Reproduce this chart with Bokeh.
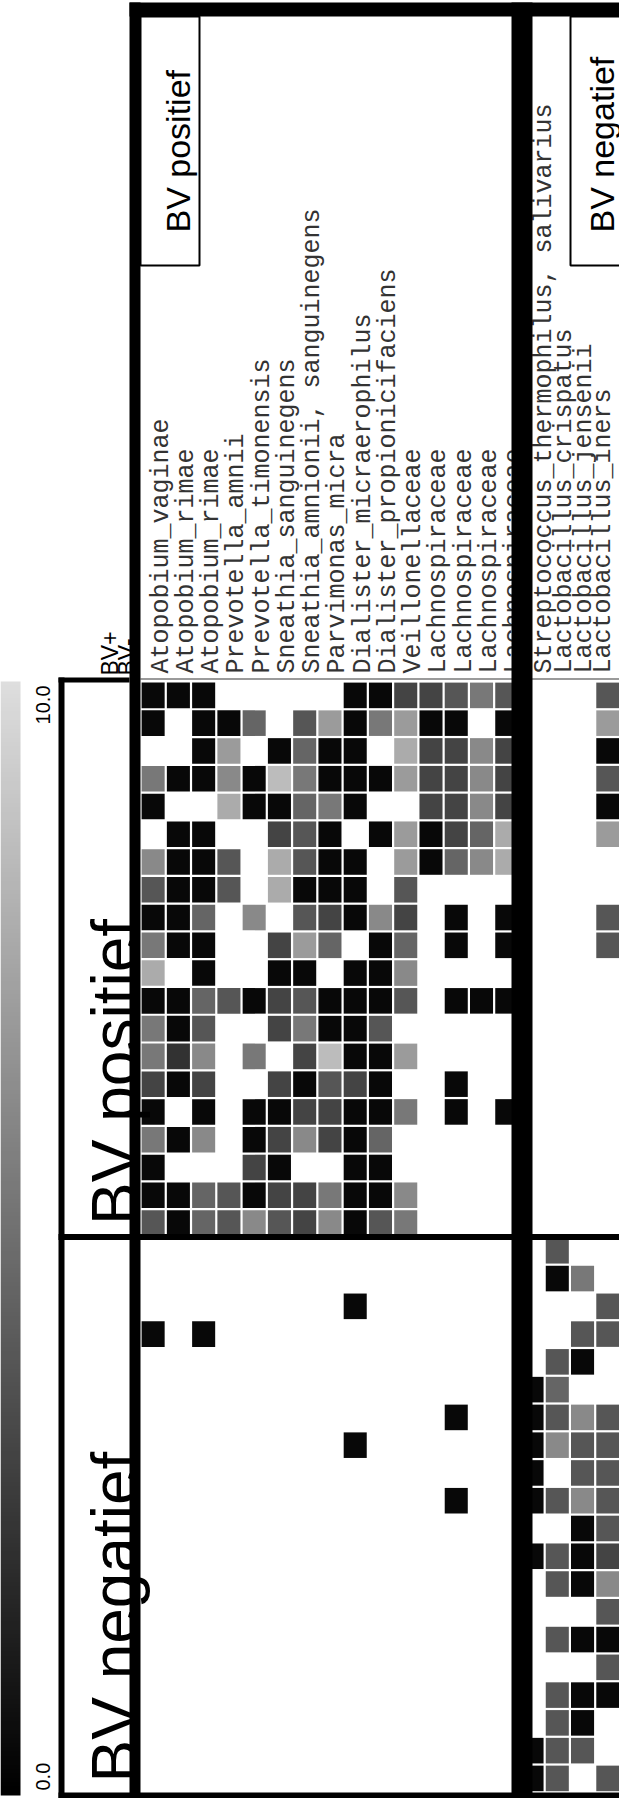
import numpy as np
from bokeh.plotting import figure
from bokeh.models import Range1d, LinearColorMapper, ColumnDataSource
from bokeh.core.properties import value
from bokeh.embed import file_html
from bokeh.resources import INLINE

# ---------------- data ----------------
taxa = [
    "Atopobium_vaginae", "Atopobium_rimae", "Atopobium_rimae", "Prevotella_amnii",
    "Prevotella_timonensis", "Sneathia_sanguinegens", "Sneathia_amnionii, sanguinegens",
    "Parvimonas_micra", "Dialister_micraerophilus", "Dialister_propionicifaciens",
    "Veillonellaceae", "Lachnospiraceae", "Lachnospiraceae", "Lachnospiraceae",
    "Lachnospiraceae", "Streptococcus_thermophilus, salivarius", "Lactobacillus_crispatus",
    "Lactobacillus_jensenii", "Lactobacillus_iners",
]
taxa_groups = ["BV positief"] * 15 + ["BV negatief"] * 4
sample_groups = ["BV positief", "BV negatief"]
N = None
# rows = samples of the BV positief group, columns = taxa (scale 0.0 - 10.0)
bv_pos = [
    [0.4, 0.4, 0.4, N, N, N, N, N, 0.4, 0.4, 3.1, 3.1, 3.9, 5.4, 3.9, N, N, N, 3.9],
    [0.4, N, 0.4, 0.4, 4.6, N, 3.9, 7.0, 0.4, 5.4, 7.0, 0.4, 0.4, N, 0.4, N, N, N, 7.0],
    [N, N, 0.4, 7.0, N, 0.4, 4.6, 0.4, 0.4, N, 7.7, 3.1, 3.1, 6.2, 3.1, N, N, N, 0.4],
    [5.4, 0.4, 0.4, 6.2, 0.4, 8.5, 5.4, 0.4, 0.4, 0.4, 7.0, 3.1, 3.1, 6.2, 3.1, N, N, N, 3.9],
    [0.4, N, N, 7.7, 0.4, 0.4, 4.6, 5.4, 0.4, N, N, 3.1, 3.1, 6.2, 3.1, N, N, N, 0.4],
    [N, 0.4, 0.4, N, N, 3.1, 3.9, 0.4, N, 0.4, 7.0, 0.4, 3.1, 4.6, 7.7, N, N, N, 7.0],
    [6.2, 0.4, 0.4, 3.9, N, 7.7, 3.9, 0.4, 0.4, N, 7.0, 0.4, 4.6, 6.2, 7.7, N, N, N, N],
    [3.9, 0.4, 0.4, 3.9, N, 7.7, 0.4, 0.4, 0.4, N, 3.9, N, N, N, N, N, N, N, N],
    [0.4, 0.4, 4.6, N, 6.2, N, 3.9, 3.1, 0.4, 6.2, 3.1, N, 0.4, N, 0.4, N, N, N, 3.9],
    [5.4, 0.4, 0.4, N, N, 3.1, 7.0, 4.6, N, 0.4, 4.6, N, 0.4, N, 0.4, N, N, N, 3.9],
    [7.7, N, 0.4, N, N, 0.4, 0.4, N, 0.4, 0.4, 6.2, N, N, N, N, N, N, N, N],
    [0.4, 0.4, 4.6, 3.9, 0.4, 3.1, 3.9, 0.4, 0.4, 0.4, 3.9, N, 0.4, 0.4, 0.4, N, N, N, N],
    [5.4, 0.4, 3.9, N, N, 3.1, 5.4, 0.4, 0.4, 3.9, N, N, N, N, N, N, N, N, N],
    [5.4, 2.3, 6.2, N, 5.4, N, 3.1, 8.5, 0.4, 0.4, 7.0, N, N, N, N, N, N, N, N],
    [3.1, 0.4, 3.1, N, N, 3.1, 0.4, 3.9, 3.1, 0.4, N, N, 0.4, N, N, N, N, N, N],
    [0.4, N, 0.4, N, 0.4, 0.4, 3.1, 3.1, 0.4, 0.4, 5.4, N, 0.4, N, 0.4, N, N, N, N],
    [5.4, 0.4, 6.2, N, 0.4, 3.1, 6.2, 3.1, 0.4, 4.6, N, N, N, N, N, N, N, N, N],
    [0.4, N, N, N, 3.1, 0.4, N, N, 0.4, 0.4, N, N, N, N, N, N, N, N, N],
    [0.4, 0.4, 4.6, 3.9, 0.4, 3.1, 3.1, 5.4, 0.4, 0.4, 6.2, N, N, N, N, N, N, N, N],
    [3.9, 0.4, 4.6, 3.9, 6.2, 3.9, 3.1, 6.2, 0.4, 3.9, 5.4, N, N, N, N, N, N, N, N],
]
# rows = samples of the BV negatief group
bv_neg = [
    [N, N, N, N, N, N, N, N, N, N, N, N, N, N, N, N, 3.9, N, N],
    [N, N, N, N, N, N, N, N, N, N, N, N, N, N, N, N, 0.4, 5.4, N],
    [N, N, N, N, N, N, N, N, 0.4, N, N, N, N, N, N, N, N, N, 3.9],
    [0.4, N, 0.4, N, N, N, N, N, N, N, N, N, N, N, N, N, N, 3.9, 3.9],
    [N, N, N, N, N, N, N, N, N, N, N, N, N, N, N, N, 3.9, 0.4, N],
    [N, N, N, N, N, N, N, N, N, N, N, N, N, N, N, 0.4, 4.6, N, N],
    [N, N, N, N, N, N, N, N, N, N, N, N, 0.4, N, N, 0.4, 3.9, 6.2, 3.9],
    [N, N, N, N, N, N, N, N, 0.4, N, N, N, N, N, N, 0.4, 6.2, 3.9, 3.9],
    [N, N, N, N, N, N, N, N, N, N, N, N, N, N, N, 0.4, N, 3.9, 3.9],
    [N, N, N, N, N, N, N, N, N, N, N, N, 0.4, N, N, 0.4, 3.9, 6.2, 3.9],
    [N, N, N, N, N, N, N, N, N, N, N, N, N, N, N, N, N, 0.4, 3.9],
    [N, N, N, N, N, N, N, N, N, N, N, N, N, N, N, 0.4, 3.9, 0.4, 3.1],
    [N, N, N, N, N, N, N, N, N, N, N, N, N, N, N, N, 3.9, 0.4, 6.2],
    [N, N, N, N, N, N, N, N, N, N, N, N, N, N, N, N, N, N, 3.9],
    [N, N, N, N, N, N, N, N, N, N, N, N, N, N, N, N, 3.9, 0.4, 0.4],
    [N, N, N, N, N, N, N, N, N, N, N, N, N, N, N, N, N, N, 3.9],
    [N, N, N, N, N, N, N, N, N, N, N, N, N, N, N, N, 3.9, 0.4, 0.4],
    [N, N, N, N, N, N, N, N, N, N, N, N, N, N, N, N, 3.9, 0.4, N],
    [N, N, N, N, N, N, N, N, N, N, N, N, N, N, N, 0.4, 3.9, 3.9, N],
    [N, N, N, N, N, N, N, N, N, N, N, N, N, N, N, 0.4, 3.9, N, 3.9],
]
scale_low, scale_high = 0.0, 10.0
scale_labels = ["0.0", "10.0"]

# ---------------- layout (page pixels) ----------------
H = 1814
def Y(v):
    return H - v

X0, CW = 148.0, 25.26      # heatmap columns
Y0, CH = 689.0, 27.77      # heatmap rows
ncol = len(taxa)

palette = ["#%02x%02x%02x" % (g, g, g) for g in np.linspace(0, 222, 256).astype(int)]
mapper = LinearColorMapper(palette=palette, low=scale_low, high=scale_high, nan_color="white")

p = figure(width=619, height=1798, x_range=Range1d(8, 627), y_range=Range1d(Y(1806), Y(8)),
           toolbar_location=None, output_backend="svg", min_border=0,
           x_axis_location=None, y_axis_location=None)
p.grid.visible = False
p.outline_line_color = None
p.background_fill_color = "white"
p.border_fill_color = "white"

# ---- cells
xs, ys, vs = [], [], []
for r, row in enumerate(bv_pos + bv_neg):
    for c, v in enumerate(row):
        if v is None:
            continue
        xs.append(X0 + CW * (c + 0.5))
        ys.append(Y(Y0 + CH * (r + 0.5)))
        vs.append(v)
src = ColumnDataSource(dict(x=xs, y=ys, v=vs))
p.rect(x="x", y="y", width=CW - 2.2, height=CH - 2.2, source=src,
       fill_color={"field": "v", "transform": mapper}, line_color=None)

# ---- colour bar
grad = np.linspace(scale_low, scale_high, 256).reshape(256, 1)
cb_top, cb_bot = Y0, 1803
p.image(image=[grad], x=8, y=Y(cb_bot), dw=20, dh=cb_bot - cb_top, color_mapper=mapper)
p.text(x=[50], y=[Y(1798)], text=[scale_labels[0]], angle=np.pi / 2, text_align="left",
       text_baseline="alphabetic", text_font=value("Liberation Sans"), text_font_size="20px",
       text_color="black")
p.text(x=[50], y=[Y(cb_top + 4)], text=[scale_labels[1]], angle=np.pi / 2, text_align="right",
       text_baseline="alphabetic", text_font=value("Liberation Sans"), text_font_size="20px",
       text_color="black")

# ---- taxa labels (baseline on the right of the rotated text)
label_x = []
for c in range(ncol):
    cx = X0 + CW * (c + 0.5)
    if taxa_groups[c] == "BV positief":
        cx += 8
    else:
        cx += 12
    label_x.append(cx)
label_x[15] = 552
label_x[16] = 572
label_x[17] = 592
label_x[18] = 611
p.text(x=label_x, y=[Y(681)] * ncol, text=taxa, angle=np.pi / 2, text_align="left",
       text_baseline="alphabetic", text_font=value("Liberation Mono"), text_font_size="25px",
       text_color="#333333")

# ---- taxa group boxes
p.quad(left=[148, 578], right=[207, 630], top=[Y(24), Y(24)], bottom=[Y(273), Y(273)],
       fill_color="white", line_color="black", line_width=2)
p.text(x=[185, 609], y=[Y(240), Y(240)], text=[taxa_groups[0], taxa_groups[-1]],
       angle=np.pi / 2, text_align="left", text_baseline="alphabetic",
       text_font=value("Liberation Sans"), text_font_size="34px", text_color="black")

# ---- sample group annotation
p.text(x=[117, 134], y=[Y(683), Y(683)], text=["BV+", "BV-"], angle=np.pi / 2,
       text_align="left", text_baseline="alphabetic", text_font=value("Liberation Sans"),
       text_font_size="23px", text_color="black")
split = Y0 + CH * len(bv_pos)
p.text(x=[122, 122], y=[Y(split - 12), Y(1790)], text=sample_groups, angle=np.pi / 2,
       text_align="left", text_baseline="alphabetic", text_font=value("Liberation Sans"),
       text_font_size="64px", text_color="black")

# ---- frame & separators
blk = dict(fill_color="black", line_color=None)
p.quad(left=[148], right=[630], top=[Y(685.5)], bottom=[Y(687.5)], fill_color="#9a9a9a", line_color=None)
p.quad(left=[137], right=[635], top=[Y(10)], bottom=[Y(24)], **blk)          # top
p.quad(left=[137], right=[148], top=[Y(10)], bottom=[Y(1814)], **blk)        # left
p.quad(left=[66], right=[635], top=[Y(1800)], bottom=[Y(1814)], **blk)       # bottom
p.quad(left=[519], right=[540], top=[Y(10)], bottom=[Y(1814)], **blk)        # taxa split
p.quad(left=[66], right=[630], top=[Y(split - 3)], bottom=[Y(split + 3)], **blk)  # sample split
p.quad(left=[66], right=[72], top=[Y(685)], bottom=[Y(1814)], **blk)         # annotation left
p.quad(left=[66], right=[137], top=[Y(685)], bottom=[Y(690)], **blk)         # annotation top

open("out.html", "w").write(file_html(p, INLINE))
